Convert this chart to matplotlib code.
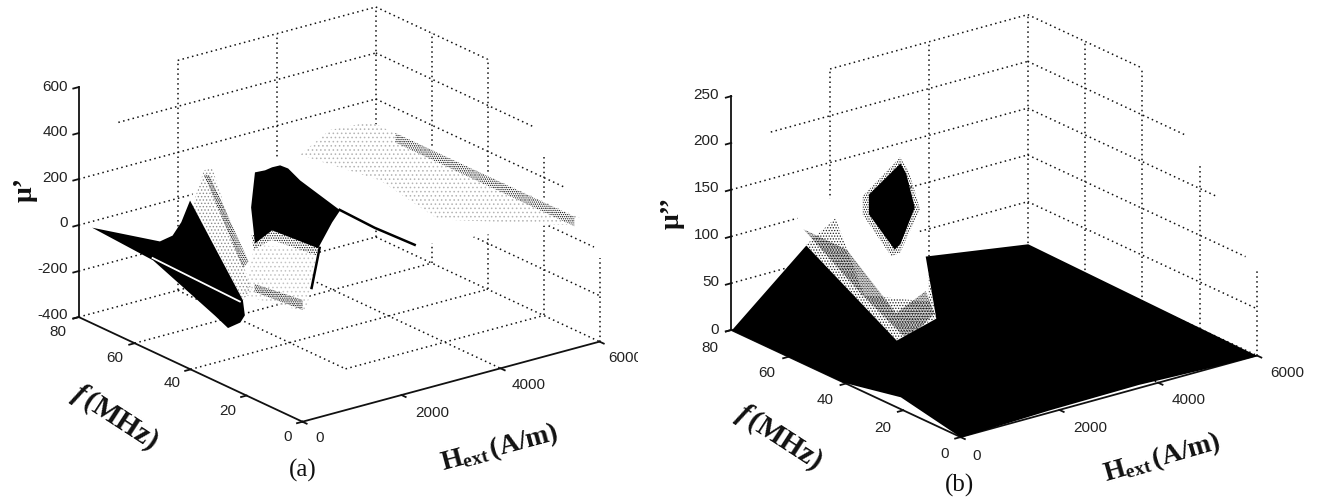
import matplotlib
matplotlib.use("Agg")
import matplotlib.pyplot as plt
from matplotlib.transforms import Bbox
from mpl_toolkits.mplot3d.art3d import Poly3DCollection

W, H = 1317, 502
plt.rcParams['font.family'] = 'Liberation Sans'
plt.rcParams['mathtext.fontset'] = 'custom'
plt.rcParams['mathtext.rm'] = 'Liberation Serif:bold'
plt.rcParams['mathtext.bf'] = 'Liberation Serif:bold'
plt.rcParams['mathtext.it'] = 'Liberation Serif:italic:bold'
plt.rcParams['hatch.linewidth'] = 0.6

CLEAR = (0, 0, 0, 0)

H_ticks = [0, 2000, 4000, 6000]
f_ticks = [0, 20, 40, 60, 80]
za_ticks = [-400, -200, 0, 200, 400, 600]
zb_ticks = [0, 50, 100, 150, 200, 250]

# grid lines are cut off in the original, one entry per z tick
a_wall_H_start = [0, 0, 0, 0, 800, 2000]
a_wall_f_end = [0, 0, 2, 12, 24, 40]
a_vert_top = [-35, 300, 600, 600]
b_wall_H_start = [0, 0, 0, 0, 800, 2000]
b_wall_f_end = [0, 0, 4, 14, 25, 40]
b_vert_top = [91, 177, 250, 250]

# panel a, mu'
a_white_H = [600, 600, 1290, 5070, 5900, 6000, 4626, 3717, 3010, 2606, 2304, 1394, 600]
a_white_f = [51, 45.6, 40, 80, 80, 3.6, 40, 40, 40, 40, 40, 40, 31.4]
a_white_z = [239, 423, 393, 119, 107, 119, -127, 0, 110, -31, -283, -157, -149]

a_wing_H = [0, 240, 360, 480, 600, 600, 600, 600, 0, 0, 0]
a_wing_f = [75.4, 55.4, 53, 52, 51, 32.1, 31.4, 33, 26.8, 31.4, 53.6]
a_wing_z = [17, 57, 89, 146, 239, -87, -149, -189, -143, -116, -1]

a_block_H = [1212, 1290, 1495, 1636, 1798, 1960, 2202, 3010, 2848, 2707, 2566, 1636, 1290]
a_block_f = [40, 40, 40, 40, 40, 40, 40, 40, 40, 40, 40, 40, 40]
a_block_z = [236, 384, 381, 386, 385, 362, 296, 119, 76, 28, -20, 112, 75]

a_tail1_H = [3010, 3717, 4525]
a_tail1_f = [40, 40, 40]
a_tail1_z = [119, 0, -121]
a_tail2_H = [2606, 2444]
a_tail2_f = [40, 40]
a_tail2_z = [-23, -188]
a_stripe_H = [0, 600]
a_stripe_f = [53.6, 33]
a_stripe_z = [7, -100]

a_far_H = [4465, 5400, 5400, 6000, 6000, 6000, 5900, 5070]
a_far_f = [80, 68, 47, 12, 7, 73, 80, 80]
a_far_z = [46, -50, -101, 39, 98, 90, 107, 119]
a_edge_H = [6000, 6000, 6000, 6000]
a_edge_f = [73, 9, 9, 73]
a_edge_z = [92, 92, 50, 50]

a_s1_H = [720, 720, 720, 720, 720]
a_s1_f = [48, 45, 31, 34, 52]
a_s1_z = [378, 405, -44, -106, 203]
a_s1dark_H = [720, 720, 720, 720]
a_s1dark_f = [48, 46, 32, 34]
a_s1dark_z = [360, 368, 73, 33]

a_s2_H = [1290, 2566, 2444, 2304, 1394, 1091]
a_s2_f = [40, 40, 40, 40, 40, 40]
a_s2_z = [67, -29, -196, -283, -179, -140]
a_s2dark_H = [1290, 2262, 2262, 1290]
a_s2dark_f = [40, 40, 40, 40]
a_s2dark_z = [-103, -229, -273, -138]
a_fringe_H = [1232, 1636, 2566, 2566, 1636, 1273]
a_fringe_f = [40, 40, 40, 40, 40, 40]
a_fringe_z = [113, 120, -7, -55, 68, 46]

# panel b, mu''
b_floor_H = [0, 0, 600, 1500, 3925, 6000, 6000, 5100, 3600, 1800, 0, 0, 0]
b_floor_f = [80, 54, 32.8, 34.5, 80, 80, 0, 0, 0, 0, 0, 21, 41]
b_floor_z = [0, 128, 48, 56, 22, 5, 0, 1, 4, 3, 0, 13, 0]

b_white_H = [0, 1500, 1500, 1500, 1500, 3925, 1500, 600, 0]
b_white_f = [58, 60, 48, 42, 40, 80, 34.5, 32.8, 54]
b_white_z = [160, 160, 212, 170, 120, 22, 56, 48, 128]

b_diam_H = [1500, 1500, 1500, 1500, 1500, 1500, 1500]
b_diam_f = [58, 47, 45, 42, 47, 49, 58]
b_diam_z = [155, 204, 196, 164, 118, 109, 134]
b_halo_H = [1500, 1500, 1500, 1500, 1500, 1500, 1500]
b_halo_f = [60, 47, 44, 40, 47, 50, 60]
b_halo_z = [150, 210, 200, 165, 108, 100, 130]

b_sp_H = [0, 600, 600, 1500, 1500, 1500, 600, 0]
b_sp_f = [54, 54, 44, 37, 37, 34.5, 32.8, 54]
b_sp_z = [128, 148, 80, 70, 100, 56, 48, 128]
b_band_H = [300, 600, 900, 1500, 1500, 900, 600]
b_band_f = [60, 50, 38, 38, 35, 34, 45]
b_band_z = [132, 120, 65, 80, 60, 42, 80]


def pos(cx, cy, L):
    return [(cx - L / 2) / W, 1 - (cy + L / 2) / H, L / W, L / H]


def patch(ax, Hs, fs, zs, z_order, face=CLEAR, edge=CLEAR, hatch=None):
    col = Poly3DCollection([list(zip(Hs, fs, zs))], facecolor=face, edgecolor=edge,
                           linewidth=0, hatch=hatch, zorder=z_order)
    ax.add_collection3d(col)


def dots(ax, Hs, fs, zs):
    ax.plot(Hs, fs, zs, color='#111111', lw=1.1, ls=(0, (1, 2.2)), zorder=1)


def setup(ax, zt, start, end, top, elev, azim, aspect, zoom):
    zmin, zmax = zt[0], zt[-1]
    ax.set_proj_type('ortho')
    ax.computed_zorder = False
    ax.view_init(elev=elev, azim=azim)
    ax.set_xlim(0, 6000)
    ax.set_ylim(0, 80)
    ax.set_zlim(zmin, zmax)
    ax.set_box_aspect(aspect, zoom=zoom)
    ax.set_axis_off()
    ax.patch.set_alpha(0)
    for z, h0, f1 in zip(zt, start, end):
        dots(ax, [h0, 6000], [80, 80], [z, z])
        dots(ax, [6000, 6000], [80, f1], [z, z])
    for h in H_ticks[1:]:
        dots(ax, [h, h], [80, 80], [zmin, zmax])
    for f, t in zip(f_ticks[:4], top):
        dots(ax, [6000, 6000], [f, f], [zmin, t])
    dots(ax, [0, 6000], [60, 60], [zmin, zmin])
    dots(ax, [0, 6000], [40, 40], [zmin, zmin])
    dots(ax, [2000, 6000], [20, 20], [zmin, zmin])
    dots(ax, [2000, 2000], [80, 20], [zmin, zmin])
    dots(ax, [4000, 4000], [80, 0], [zmin, zmin])


def frame(ax, zt):
    zmin, zmax = zt[0], zt[-1]
    k = dict(color='#111111', lw=1.3, zorder=7)
    ax.plot([0, 0], [80, 80], [zmin, zmax], **k)
    ax.plot([0, 0], [0, 80], [zmin, zmin], **k)
    ax.plot([0, 6000], [0, 0], [zmin, zmin], **k)
    for z in zt:
        ax.plot([-110, 0], [80, 80], [z, z], **k)
    for f in f_ticks:
        ax.plot([-110, 0], [f, f], [zmin, zmin], **k)
    for h in H_ticks:
        ax.plot([h, h], [-1.5, 0], [zmin, zmin], **k)


def txt(x, y, s, **kw):
    kw.setdefault('ha', 'center')
    kw.setdefault('va', 'center')
    return fig.text(x / W, 1 - y / H, s, **kw)


fig = plt.figure(figsize=(W / 100, H / 100), dpi=100)

# (a)
ax1 = fig.add_axes(pos(330.5, 224, 640), projection='3d')
setup(ax1, za_ticks, a_wall_H_start, a_wall_f_end, a_vert_top, 20.8, -127.2, (373, 370, 246), 0.88)
patch(ax1, a_white_H, a_white_f, a_white_z, 2, face='white')
patch(ax1, a_far_H, a_far_f, a_far_z, 3, edge='#b4b4b4', hatch='....')
patch(ax1, a_edge_H, a_edge_f, a_edge_z, 3, edge='#111111', hatch='........')
patch(ax1, a_s1_H, a_s1_f, a_s1_z, 3, edge='#8a8a8a', hatch='.....')
patch(ax1, a_s1dark_H, a_s1dark_f, a_s1dark_z, 4, edge='#000000', hatch='.........')
patch(ax1, a_s2_H, a_s2_f, a_s2_z, 3, edge='#c4c4c4', hatch='....')
patch(ax1, a_s2dark_H, a_s2dark_f, a_s2dark_z, 4, edge='#000000', hatch='.........')
patch(ax1, a_fringe_H, a_fringe_f, a_fringe_z, 4, edge='#111111', hatch='.......')
patch(ax1, a_wing_H, a_wing_f, a_wing_z, 5, face='black')
patch(ax1, a_block_H, a_block_f, a_block_z, 5, face='black')
ax1.plot(a_tail1_H, a_tail1_f, a_tail1_z, color='black', lw=1.8, zorder=5)
ax1.plot(a_tail2_H, a_tail2_f, a_tail2_z, color='black', lw=1.8, zorder=5)
ax1.plot(a_stripe_H, a_stripe_f, a_stripe_z, color='white', lw=1.3, zorder=6)
frame(ax1, za_ticks)

# (b)
ax2 = fig.add_axes(pos(985.5, 235.5, 640), projection='3d')
setup(ax2, zb_ticks, b_wall_H_start, b_wall_f_end, b_vert_top, 21.0, -127.5, (376, 379, 252), 0.89)
frame(ax2, zb_ticks)
patch(ax2, b_white_H, b_white_f, b_white_z, 2, face='white')
patch(ax2, b_sp_H, b_sp_f, b_sp_z, 3, edge='#222222', hatch='......')
patch(ax2, b_band_H, b_band_f, b_band_z, 4, edge='#000000', hatch='..........')
patch(ax2, b_floor_H, b_floor_f, b_floor_z, 8, face='black')
patch(ax2, b_halo_H, b_halo_f, b_halo_z, 8, edge='#111111', hatch='.......')
patch(ax2, b_diam_H, b_diam_f, b_diam_z, 8, face='black')

# tick labels
tk = dict(fontsize=11, color='#222222')
za_y = [315, 269, 223, 178, 132, 87]
zb_y = [330, 282, 235, 188, 141, 95]
fa_xy = [(288, 437), (228, 411), (172, 383), (115, 358), (58, 332)]
fb_xy = [(945, 454), (883, 428), (825, 400), (767, 373), (710, 348)]
Ha_xy = [(320, 438), (432, 413), (529, 385), (625, 358)]
Hb_xy = [(977, 456), (1090, 428), (1189, 400), (1287, 373)]
for z, y in zip(za_ticks, za_y):
    txt(68, y, str(z), ha='right', **tk)
for z, y in zip(zb_ticks, zb_y):
    txt(719, y, str(z), ha='right', **tk)
for v, p in zip(f_ticks, fa_xy):
    txt(p[0], p[1], str(v), **tk)
for v, p in zip(f_ticks, fb_xy):
    txt(p[0], p[1], str(v), **tk)
for v, p in zip(H_ticks, Ha_xy):
    t = txt(p[0], p[1], str(v), **tk)
    t.set_clip_box(Bbox([[0, 0], [638, H]]))
    t.set_clip_on(True)
for v, p in zip(H_ticks, Hb_xy):
    txt(p[0], p[1], str(v), **tk)

# axis titles
serif = dict(family='Liberation Serif', color='#111111')
hlabel = r'$\mathbf{H}_{\mathbf{ext}}\,\mathbf{(A/m)}$'
flabel = r'$\mathit{f}\,\mathbf{(MHz)}$'
txt(500, 448, hlabel, fontsize=20, rotation=15, **serif)
txt(1162, 458, hlabel, fontsize=20, rotation=16, **serif)
txt(115, 417, flabel, fontsize=21, rotation=-33, **serif)
txt(779, 437, flabel, fontsize=21, rotation=-33, **serif)
txt(25, 190, 'μ’', fontsize=20, rotation=90, weight='bold', **serif)
txt(672, 213, 'μ’’', fontsize=20, rotation=90, weight='bold', **serif)
txt(303, 470, '(a)', fontsize=18, **serif)
txt(959, 485, '(b)', fontsize=18, **serif)

fig.savefig('out.png', dpi=100)
